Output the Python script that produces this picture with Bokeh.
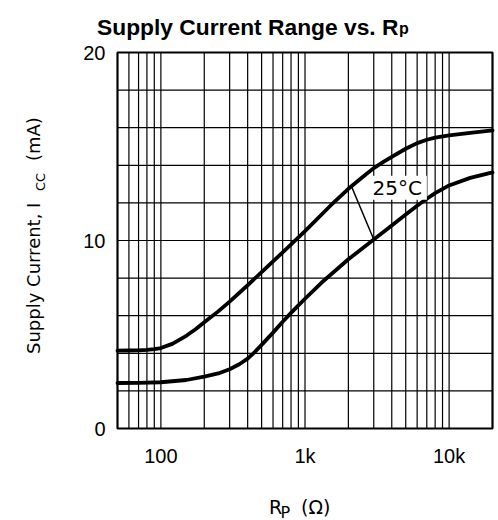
import numpy as np
from bokeh.plotting import figure
from bokeh.models import Range1d, FixedTicker, Label, BoxAnnotation
from bokeh.embed import file_html
from bokeh.resources import INLINE

# ---- data ----
# Rp (ohm) and supply current (mA), upper curve
r_upper = [50, 60, 70, 80, 90, 100, 120, 150, 175, 200, 250, 300, 400, 500, 700,
           1000, 1500, 2000, 2500, 3000, 3500, 4000, 5000, 6000, 7000, 8000,
           10000, 14000, 20000]
i_upper = [4.14, 4.15, 4.16, 4.18, 4.22, 4.28, 4.5, 4.93, 5.29, 5.65, 6.23, 6.75,
           7.62, 8.32, 9.37, 10.5, 11.85, 12.75, 13.36, 13.85, 14.18, 14.45, 14.88,
           15.18, 15.36, 15.47, 15.59, 15.72, 15.86]
# lower curve
r_lower = [50, 70, 100, 150, 200, 250, 300, 350, 400, 450, 500, 600, 700, 800, 900,
           1000, 1300, 2000, 3000, 4000, 5000, 6000, 7000, 8000, 10000, 14000, 20000]
i_lower = [2.42, 2.43, 2.46, 2.58, 2.76, 2.93, 3.15, 3.42, 3.72, 4.08, 4.45, 5.1,
           5.68, 6.15, 6.55, 6.9, 7.75, 9.0, 10.05, 10.8, 11.38, 11.85, 12.22,
           12.52, 12.93, 13.33, 13.62]
# leader line of the note: from the upper curve at 2.1k to the lower curve at 3k
leader_r = [2100, 3000]
note_text = "25°C"
note_r = 4360
note_i = 12.8

x_ticks = [100, 1000, 10000]
x_tick_labels = ["100", "1k", "10k"]
x_grid = [60, 70, 80, 90, 100, 200, 300, 400, 500, 600, 700, 800, 900,
          1000, 2000, 3000, 4000, 5000, 6000, 7000, 8000, 9000, 10000]
y_ticks = [0, 10, 20]
y_grid = [2, 4, 6, 8, 10, 12, 14, 16, 18]
x_min, x_max = 50, 20000
y_min, y_max = 0, 20

title_main = "Supply Current Range vs. R"
title_sub = "p"
ylab_main = "Supply Current, I"
ylab_sub = "CC"
ylab_tail = "(mA)"
xlab_main = "R"
xlab_sub = "P"
xlab_tail = "(Ω)"

# ---- layout: chart box 117..492 px wide, 52..428 px tall on a 498x520 canvas ----
W, H = 498, 520
box_l, box_r, box_t, box_b = 117, 492, 52, 428
d = np.log10(x_max / x_min) / (box_r - box_l)
k = (box_b - box_t) / (y_max - y_min)
xr = Range1d(x_min / 10 ** (box_l * d), x_max * 10 ** ((W - box_r) * d))
yr = Range1d(y_min - (H - box_b) / k, y_max + box_t / k)

p = figure(width=W, height=H, x_axis_type="log", x_range=xr, y_range=yr,
           title=None, toolbar_location=None, output_backend="svg",
           min_border=0, min_border_left=0, min_border_right=0,
           min_border_top=0, min_border_bottom=0)
p.background_fill_color = "white"
p.border_fill_color = "white"
p.outline_line_color = None
p.xgrid.visible = False
p.ygrid.visible = False

for ax in (p.xaxis, p.yaxis):
    ax.axis_line_color = None
    ax.major_tick_line_color = None
    ax.minor_tick_line_color = None
    ax.major_tick_out = 0
    ax.major_tick_in = 0
    ax.minor_tick_out = 0
    ax.minor_tick_in = 0
    ax.major_label_text_font = "Liberation Sans"
    ax.major_label_text_font_size = "20px"
    ax.major_label_text_color = "black"

p.xaxis.fixed_location = y_min
p.xaxis.ticker = FixedTicker(ticks=x_ticks, minor_ticks=[])
p.xaxis.major_label_overrides = {t: s for t, s in zip(x_ticks, x_tick_labels)}
p.xaxis.major_label_standoff = 16
p.yaxis.fixed_location = x_min
p.yaxis.ticker = FixedTicker(ticks=y_ticks, minor_ticks=[])
p.yaxis.major_label_standoff = 12

# grid lines limited to the chart box
p.segment(x0=x_grid, y0=[y_min] * len(x_grid), x1=x_grid, y1=[y_max] * len(x_grid),
          line_color="black", line_width=1.2)
p.segment(x0=[x_min] * len(y_grid), y0=y_grid, x1=[x_max] * len(y_grid), y1=y_grid,
          line_color="black", line_width=1.2)

p.line(r_upper, i_upper, line_color="black", line_width=3.8,
       line_join="round", line_cap="round")
p.line(r_lower, i_lower, line_color="black", line_width=3.8,
       line_join="round", line_cap="round")

# leader line endpoints lie on the curves
lu = np.interp(np.log10(leader_r[0]), np.log10(r_upper), i_upper)
ll = np.interp(np.log10(leader_r[1]), np.log10(r_lower), i_lower)
p.line(leader_r, [lu, ll], line_color="black", line_width=1.5)

p.add_layout(BoxAnnotation(left=x_min, right=x_max, bottom=y_min, top=y_max,
                           fill_alpha=0, line_color="black", line_width=2.2,
                           line_alpha=1))

p.add_layout(Label(x=note_r, y=note_i, text=note_text, text_align="center",
                   text_baseline="middle", text_font="DejaVu Sans",
                   text_font_size="20px", text_color="black",
                   background_fill_color="white",
                   padding=dict(left=5, right=5, top=0, bottom=0)))

# ---- title ----
p.add_layout(Label(x=x_min, y=y_max, x_offset=281, y_offset=25.3,
                   text=title_main, text_align="right", text_baseline="alphabetic",
                   text_font="Liberation Sans", text_font_style="bold",
                   text_font_size="22.8px", text_color="black"))
p.add_layout(Label(x=x_min, y=y_max, x_offset=281.5, y_offset=23.7,
                   text=title_sub, text_align="left", text_baseline="alphabetic",
                   text_font="Liberation Sans", text_font_style="bold",
                   text_font_size="16px", text_color="black"))

# ---- y axis label ----
ang = np.pi / 2
p.add_layout(Label(x=x_min, y=y_min, x_offset=-84, y_offset=74.5, angle=ang,
                   text=ylab_main, text_align="left", text_baseline="alphabetic",
                   text_font="DejaVu Sans", text_font_size="18px", text_color="black"))
p.add_layout(Label(x=x_min, y=y_min, x_offset=-77.5, y_offset=237.5, angle=ang,
                   text=ylab_sub, text_align="left", text_baseline="alphabetic",
                   text_font="DejaVu Sans", text_font_size="13px", text_color="black"))
p.add_layout(Label(x=x_min, y=y_min, x_offset=-84, y_offset=267.5, angle=ang,
                   text=ylab_tail, text_align="left", text_baseline="alphabetic",
                   text_font="DejaVu Sans", text_font_size="18px", text_color="black"))

# ---- x axis label ----
xc = 1000
p.add_layout(Label(x=xc, y=y_min, x_offset=-36, y_offset=-78,
                   text=xlab_main, text_align="left", text_baseline="alphabetic",
                   text_font="DejaVu Sans", text_font_size="19px", text_color="black"))
p.add_layout(Label(x=xc, y=y_min, x_offset=-24.5, y_offset=-83.5,
                   text=xlab_sub, text_align="left", text_baseline="alphabetic",
                   text_font="DejaVu Sans", text_font_size="16px", text_color="black"))
p.add_layout(Label(x=xc, y=y_min, x_offset=-4, y_offset=-78.5,
                   text=xlab_tail, text_align="left", text_baseline="alphabetic",
                   text_font="DejaVu Sans", text_font_size="19px", text_color="black"))

open("out.html", "w").write(file_html(p, INLINE))
